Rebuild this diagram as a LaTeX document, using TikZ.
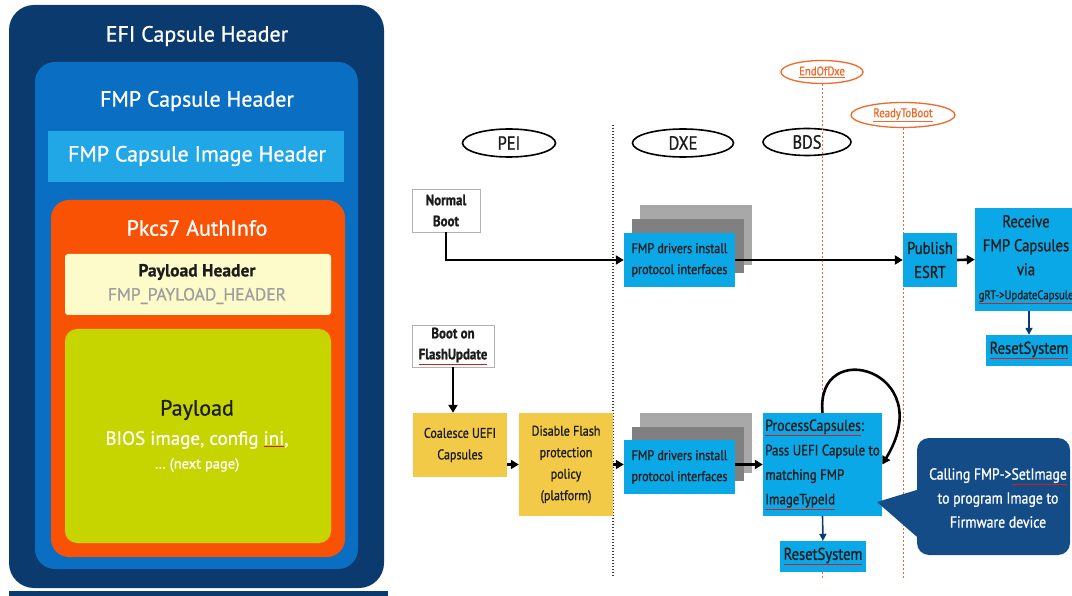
\documentclass[tikz,border=0pt]{standalone}
\usepackage{fontspec}
\setmainfont[FakeStretch=0.86,FakeBold=1.0]{PT Sans}
\newfontfamily\widefont[FakeBold=0.8]{PT Sans}
\usetikzlibrary{arrows.meta,shapes.geometric}
\definecolor{navy}{HTML}{0B3B6E}
\definecolor{midblue}{HTML}{0A6FC2}
\definecolor{liteblue}{HTML}{22A7E6}
\definecolor{orng}{HTML}{FA5205}
\definecolor{paleyel}{HTML}{FDFBC9}
\definecolor{limey}{HTML}{C6D400}
\definecolor{boxblue}{HTML}{0AA8E6}
\definecolor{boxyel}{HTML}{F2CA48}
\definecolor{grayA}{HTML}{A8A8A8}
\definecolor{grayB}{HTML}{808080}
\definecolor{evtor}{HTML}{EE6A2C}
\definecolor{callnavy}{HTML}{134C86}
\definecolor{txt}{HTML}{1C1C1C}
\definecolor{spell}{HTML}{D02020}
\newcommand\spellu[2][txt]{\textcolor{spell}{\underline{\textcolor{#1}{#2}}}}
\newcommand\fsz[2]{\fontsize{#1}{#2}\selectfont}
\begin{document}
\begin{tikzpicture}[x=1pt,y=-1pt,
  lbl/.style={inner sep=0pt, align=center},
  lpan/.style={inner sep=0pt, align=center, font=\widefont\fsz{#1}{#1}},
  wbox/.style={draw=gray!60, line width=0.8pt, fill=white, text=txt, align=center, inner sep=0pt, font=\bfseries\fsz{15}{21}},
  bbox/.style={fill=boxblue, text=txt, align=center, inner sep=0pt},
  ybox/.style={fill=boxyel, text=txt, align=center, inner sep=0pt, font=\fsz{14}{21.5}},
  phase/.style={ellipse, draw=black, line width=1.6pt, inner sep=0pt, minimum height=28pt, text=txt, font=\fsz{19}{20}},
  evt/.style={ellipse, draw=evtor, line width=1.3pt, inner sep=0pt, text=evtor, font=\fsz{12.5}{14}},
  flow/.style={line width=2.6pt, -{Triangle[length=8pt,width=9pt]}},
  sflow/.style={line width=1.6pt, navy, -{Triangle[length=7pt,width=7pt]}},
  phline/.style={line width=1.5pt, dash pattern=on 1.4pt off 1.6pt, gray!45!black},
  evline/.style={line width=1pt, dash pattern=on 2pt off 2pt, evtor},
]
\useasboundingbox (0,0) rectangle (1072,596);
\clip (0,0) rectangle (1072,596);
\fill[white] (0,0) rectangle (1072,596);

% ---------- left panel ----------
\fill[navy, rounded corners=25pt] (9,5) rectangle (384,588);
\fill[navy] (9,591) rectangle (388,596);
\fill[midblue, rounded corners=20pt] (35,62) rectangle (358,569);
\fill[liteblue] (48,131) rectangle (344,182);
\fill[orng, rounded corners=18pt] (51,200) rectangle (345,557);
\fill[paleyel, rounded corners=3pt] (65,254) rectangle (331,315);
\fill[limey, rounded corners=12pt] (65,329) rectangle (331,543);

\node[lpan=22, white] (efi) at (197,36) {EFI Capsule Header};
\node[lpan=22, white] (fmpch) at (197,101) {FMP Capsule Header};
\node[lpan=22, white] (fmpih) at (197,156) {FMP Capsule Image Header};
\node[lpan=22, white] (pkcs) at (197,228) {Pkcs7 AuthInfo};
\node[lpan=17.5, txt] (plh) at (197,272) {\bfseries Payload Header};
\node[lpan=17.5, gray!75] (fph) at (197,296) {FMP\_PAYLOAD\_HEADER};
\node[lpan=22, txt] (pl) at (197,410) {Payload};
\node[lpan=19, white] (bios) at (197,440) {BIOS image, config \spellu[white]{ini},};
\node[lpan=14.5, white] (nextp) at (197,465) {\ldots\ (next page)};

% ---------- phase lines ----------
\coordinate (pl1t) at (613,125); \coordinate (pl1b) at (613,577);
\draw[phline] (pl1t) -- (pl1b);

\node[phase, minimum width=93pt] (pei) at (509,143) {PEI};
\node[phase, minimum width=101pt] (dxe) at (683,143) {DXE};
\node[phase, minimum width=88pt, minimum height=27pt] (bds) at (807,142) {BDS};
\node[evt, minimum width=82pt, minimum height=23pt] (eod) at (822,72) {\underline{EndOfDxe}};
\node[evt, minimum width=104pt, minimum height=25pt] (rtb) at (903,115) {\underline{ReadyToBoot}};
\coordinate (eodb) at (822,578); \coordinate (rtbb) at (903,578);
\draw[evline] (eod.south) -- (eodb);
\draw[evline] (rtb.south) -- (rtbb);

% ---------- normal boot path ----------
\node[wbox, minimum width=68pt, minimum height=43pt] (nb) at (446,210.5) {Normal\\Boot};
\fill[grayA] (640,205) rectangle (752,265);
\fill[grayB] (632,219) rectangle (744,273);
\node[bbox, minimum width=111pt, minimum height=54pt, font=\fsz{14}{21}] (fmp1) at (679.5,260) {FMP drivers install\\protocol interfaces};
\node[bbox, minimum width=54pt, minimum height=54pt, font=\fsz{17}{24}] (esrt) at (930,260) {Publish\\ESRT};
\node[bbox, minimum width=102pt, minimum height=103pt, font=\fsz{17}{24}] (recv) at (1026,259.5) {Receive\\FMP Capsules\\via\\{\fsz{12.5}{14}\spellu{gRT->UpdateCapsule}}};
\node[bbox, minimum width=86pt, minimum height=31pt, font=\fsz{17}{20}] (rst1) at (1029,350.5) {\spellu{ResetSystem}};

\draw[flow] (nb.south) |- (fmp1.west);
\draw[flow] (fmp1.east) -- (esrt.west);
\draw[flow] (esrt.east) -- (recv.west);
\draw[sflow] (recv.south -| rst1.north) -- (rst1.north);

% ---------- flash update path ----------
\node[wbox, minimum width=82pt, minimum height=42pt] (fb) at (453,346) {Boot on\\\spellu{FlashUpdate}};
\node[ybox, minimum width=94pt, minimum height=64pt] (coal) at (460,445) {Coalesce UEFI\\Capsules};
\node[ybox, minimum width=94pt, minimum height=103pt] (dis) at (566,464.5) {Disable Flash\\protection\\policy\\(platform)};
\fill[grayA] (640,413) rectangle (752,473);
\fill[grayB] (632,427) rectangle (744,481);
\node[bbox, minimum width=111pt, minimum height=54pt, font=\fsz{14}{21}] (fmp2) at (679.5,467) {FMP drivers install\\protocol interfaces};
\node[bbox, minimum width=119pt, minimum height=103pt, align=left, font=\fsz{15}{24.5}] (proc) at (822.5,464.5) {{\fsz{16}{24.5}\spellu{ProcessCapsules}:}\\Pass UEFI Capsule to\\matching FMP\\\spellu{ImageTypeId}};
\node[bbox, minimum width=86pt, minimum height=31pt, font=\fsz{17}{20}] (rst2) at (823,556.5) {\spellu{ResetSystem}};

\draw[flow] (fb.south) -- (fb.south |- coal.north);
\draw[flow] (dis.west -| coal.east) -- (dis.west);
\draw[flow] (dis.east) -- (dis.east -| fmp2.west);
\draw[flow] (proc.west -| fmp2.east) -- (proc.west);
\draw[flow] (proc.north) .. controls (815,335) and (940,370) .. (proc.east);
\draw[sflow] (proc.south) -- (rst2.north);

% ---------- callout ----------
\node[fill=callnavy, rounded corners=12pt, minimum width=153pt, minimum height=117pt, inner sep=0pt] (cbox) at (993.5,496.5) {};
\coordinate (ctip) at (877,502);
\fill[callnavy] (ctip) -- (930,486) -- (932,550) -- cycle;
\node[lbl, white, font=\fsz{16}{24}] (ctext) at (998,498) {Calling FMP->\spellu[white]{SetImage}\\to program Image to\\Firmware device};
\end{tikzpicture}
\end{document}
